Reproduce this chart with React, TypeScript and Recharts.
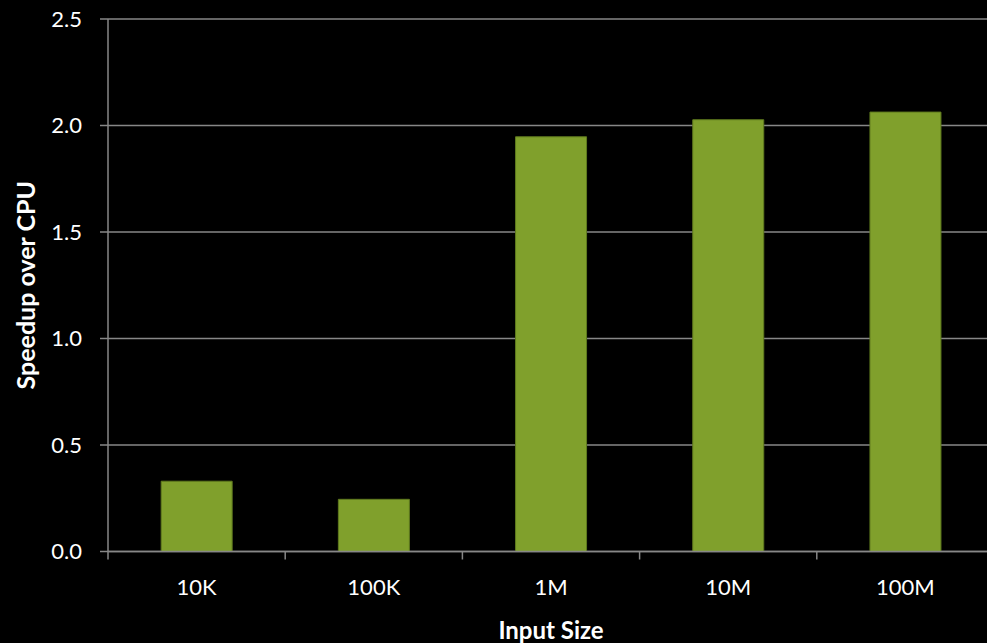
import { Bar, BarChart, CartesianGrid, XAxis, YAxis } from "recharts";

const sizes = ["10K", "100K", "1M", "10M", "100M"];
const speedup = [0.33, 0.245, 1.947, 2.027, 2.063];
const yTicks = [0, 0.5, 1.0, 1.5, 2.0, 2.5];

const data = sizes.map((size, i) => ({ size, speedup: speedup[i] }));

const FONT = "Lato, 'Open Sans', sans-serif";
const GRID = "#878787";
const GREEN = "#80a02c";

// category label plus a small tick mark on the left edge of each band
function SizeTick(props: any) {
  const { x, y, payload } = props;
  const half = payload?.offset ?? 88.5;
  const axisY = y - 8;
  return (
    <g>
      <line x1={x - half} x2={x - half} y1={axisY} y2={axisY + 8} stroke={GRID} strokeWidth={1.5} />
      <text x={x} y={axisY + 43} textAnchor="middle" fill="#fff" fontFamily={FONT} fontSize={22}>
        {payload.value}
      </text>
    </g>
  );
}

export default function App() {
  return (
    <div
      style={{
        position: "fixed",
        left: 0,
        top: 0,
        width: 987,
        height: 643,
        overflow: "hidden",
        background: "#000",
      }}
    >
      <BarChart
        width={1000}
        height={643}
        data={data}
        margin={{ top: 19, right: 6, bottom: 0, left: 0 }}
        barCategoryGap="30%"
      >
        <CartesianGrid horizontal vertical={false} stroke={GRID} strokeWidth={1.5} />
        <XAxis
          dataKey="size"
          height={91.5}
          axisLine={{ stroke: GRID, strokeWidth: 1.5 }}
          tickLine={false}
          tick={<SizeTick />}
          interval={0}
          label={{
            value: "Input Size",
            position: "insideBottom",
            offset: 4,
            fill: "#fff",
            fontFamily: FONT,
            fontSize: 24,
            fontWeight: 700,
          }}
        />
        <YAxis
          domain={[0, 2.5]}
          ticks={yTicks}
          width={108}
          tickSize={8}
          tickMargin={18}
          axisLine={{ stroke: GRID, strokeWidth: 1.5 }}
          tickLine={{ stroke: GRID, strokeWidth: 1.5 }}
          tick={{ fill: "#fff", fontFamily: FONT, fontSize: 22 }}
          tickFormatter={(v) => Number(v).toFixed(1)}
          label={{
            value: "Speedup over CPU",
            angle: -90,
            position: "insideLeft",
            offset: 26,
            fill: "#fff",
            fontFamily: FONT,
            fontSize: 25,
            fontWeight: 700,
            style: { textAnchor: "middle" },
          }}
        />
        <Bar dataKey="speedup" fill={GREEN} stroke="#5f7a1e" strokeWidth={1} isAnimationActive={false} />
      </BarChart>
    </div>
  );
}
